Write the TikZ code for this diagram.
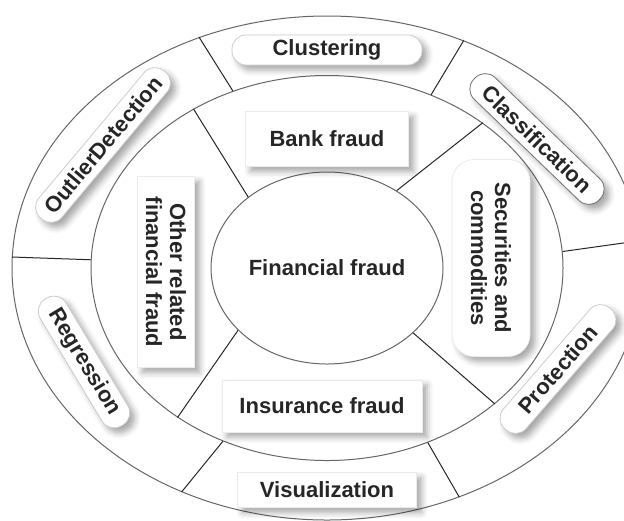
\documentclass[tikz,border=0pt]{standalone}
\usepackage{fontspec}
\newfontfamily\ringfont{Liberation Sans}
\usetikzlibrary{shapes.geometric, shadows.blur}

\tikzset{
  ring/.style={ellipse, draw=black!60, line width=0.5pt, inner sep=0pt},
  divider/.style={draw=black!85, line width=0.5pt},
  softshadow/.style={blur shadow={shadow xshift=2.5pt, shadow yshift=-2.5pt,
      shadow blur radius=3pt, shadow opacity=35}},
  ringtext/.style={font=\ringfont\bfseries\fontsize{11}{12}\selectfont,
      text=black!85, align=center, inner sep=0pt},
  pillbox/.style={ringtext, fill=white, draw=black!20, line width=0.4pt,
      rounded corners=7pt, minimum height=15pt, softshadow},
  fraudbox/.style={ringtext, fill=white, draw=black!8, line width=0.4pt,
      softshadow}
}

\begin{document}
\begin{tikzpicture}[x=0.5pt, y=-0.5pt]
\useasboundingbox (0,0) rectangle (624,520);
\clip (0,0) rectangle (624,520);

% three rings, all about one centre
\node[ring, minimum width=315pt, minimum height=252pt] (outer) at (327,268) {};
\node[ring, minimum width=236pt, minimum height=192.5pt] (middle) at (327,268) {};
\node[ring, minimum width=116pt, minimum height=96pt] (inner) at (327,268) {};

% dividers of the inner ring
\draw[divider] (inner.138) -- (middle.130);
\draw[divider] (inner.48) -- (middle.43);
\draw[divider] (inner.-37) -- (middle.-39);
\draw[divider] (inner.215) -- (middle.225);

% dividers of the outer ring
\draw[divider] (middle.118) -- (outer.119);
\draw[divider] (middle.59) -- (outer.59);
\draw[divider] (middle.4.6) -- (outer.5);
\draw[divider] (middle.-60) -- (outer.-60.5);
\draw[divider] (middle.239) -- (outer.237);
\draw[divider] (middle.178) -- (outer.178);

% methods on the outer ring
\node[pillbox, minimum width=95pt] (clustering) at (327,50) {Clustering};
\node[pillbox, minimum width=87pt, rotate=-44, draw=black!55] (classification) at (537,139) {Classification};
\node[pillbox, minimum width=80pt, rotate=49] (protection) at (558,369) {Protection};
\node[fraudbox, minimum width=89.5pt, minimum height=17.5pt] (visualization) at (327,490) {Visualization};
\node[pillbox, minimum width=74pt, rotate=-59] (regression) at (84,362) {Regression};
\node[pillbox, minimum width=96pt, rotate=50] (outlier) at (103,145) {OutlierDetection};

% kinds of fraud on the inner ring
\node[fraudbox, minimum width=81.5pt, minimum height=27.5pt] (bank) at (327,139) {Bank fraud};
\node[fraudbox, minimum width=98.5pt, minimum height=39pt, rotate=-90, rounded corners=11pt] (securities) at (491,258) {Securities and\\commodities};
\node[fraudbox, minimum width=100pt, minimum height=26pt] (insurance) at (322,406) {Insurance fraud};
\node[fraudbox, minimum width=95.5pt, minimum height=28.5pt, rotate=-90] (other) at (166,272) {Other related\\financial fraud};

\node[ringtext] (financial) at (inner) {Financial fraud};
\end{tikzpicture}
\end{document}
